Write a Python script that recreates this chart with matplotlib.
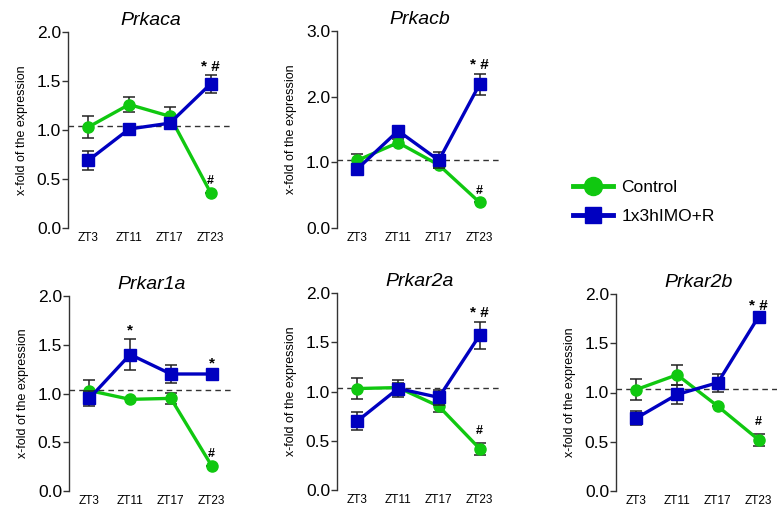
import matplotlib
matplotlib.use("Agg")
import matplotlib.pyplot as plt
from matplotlib.lines import Line2D

plt.rcParams['font.family'] = ['Liberation Sans', 'DejaVu Sans']

# data
zt = ["ZT3", "ZT11", "ZT17", "ZT23"]
genes = ["Prkaca", "Prkacb", "Prkar1a", "Prkar2a", "Prkar2b"]

ctrl = {
    "Prkaca":  [1.03, 1.26, 1.14, 0.36],
    "Prkacb":  [1.03, 1.30, 0.96, 0.39],
    "Prkar1a": [1.03, 0.94, 0.95, 0.26],
    "Prkar2a": [1.03, 1.04, 0.85, 0.42],
    "Prkar2b": [1.03, 1.18, 0.86, 0.52],
}
ctrl_err = {
    "Prkaca":  [0.11, 0.08, 0.09, 0.0],
    "Prkacb":  [0.10, 0.05, 0.05, 0.0],
    "Prkar1a": [0.11, 0.0, 0.06, 0.0],
    "Prkar2a": [0.11, 0.05, 0.06, 0.06],
    "Prkar2b": [0.11, 0.10, 0.0, 0.06],
}
imo = {
    "Prkaca":  [0.69, 1.01, 1.07, 1.47],
    "Prkacb":  [0.90, 1.48, 1.03, 2.19],
    "Prkar1a": [0.95, 1.40, 1.20, 1.20],
    "Prkar2a": [0.70, 1.03, 0.94, 1.57],
    "Prkar2b": [0.74, 0.98, 1.10, 1.77],
}
imo_err = {
    "Prkaca":  [0.10, 0.0, 0.0, 0.09],
    "Prkacb":  [0.05, 0.05, 0.12, 0.16],
    "Prkar1a": [0.08, 0.16, 0.09, 0.02],
    "Prkar2a": [0.09, 0.09, 0.08, 0.14],
    "Prkar2b": [0.07, 0.10, 0.09, 0.02],
}
# significance marks
imo_marks = {
    "Prkaca":  ["", "", "", "* #"],
    "Prkacb":  ["", "", "", "* #"],
    "Prkar1a": ["", "*", "", "*"],
    "Prkar2a": ["", "", "", "* #"],
    "Prkar2b": ["", "", "", "* #"],
}
ctrl_marks = {g: ["", "", "", "#"] for g in genes}
ymax = {"Prkaca": 2.0, "Prkacb": 3.0, "Prkar1a": 2.0, "Prkar2a": 2.0, "Prkar2b": 2.0}
yticks = {"Prkaca": [0, 0.5, 1, 1.5, 2], "Prkacb": [0, 1, 2, 3],
          "Prkar1a": [0, 0.5, 1, 1.5, 2], "Prkar2a": [0, 0.5, 1, 1.5, 2],
          "Prkar2b": [0, 0.5, 1, 1.5, 2]}
ref_level = 1.04

W, H = 777, 509
fig = plt.figure(figsize=(W / 100, H / 100), dpi=100)

# axes boxes in pixels: left, top, bottom
boxes = {
    "Prkaca":  (68, 32, 228),
    "Prkacb":  (337, 31, 228),
    "Prkar1a": (69, 296, 491),
    "Prkar2a": (337, 293, 490),
    "Prkar2b": (616, 294, 491),
}
green = '#10c810'
blue = '#0000c0'
xs = list(range(len(zt)))

for g in genes:
    l, t, b = boxes[g]
    ax = fig.add_axes([l / W, 1 - b / H, 165 / W, (b - t) / H])
    ax.axhline(ref_level, color='#333333', ls=(0, (4, 3)), lw=1.0, zorder=1)
    ax.errorbar(xs, ctrl[g], yerr=ctrl_err[g], color=green, lw=2.4, marker='o', ms=8,
                ecolor='#222222', elinewidth=1.1, capsize=4.5, capthick=1.1, zorder=3)
    ax.errorbar(xs, imo[g], yerr=imo_err[g], color=blue, lw=2.4, marker='s', ms=8,
                ecolor='#222222', elinewidth=1.1, capsize=4.5, capthick=1.1, zorder=4)
    for i in xs:
        if imo_marks[g][i]:
            ax.annotate(imo_marks[g][i], (i, imo[g][i] + imo_err[g][i]), xytext=(0, 1),
                        textcoords='offset points', ha='center', va='bottom',
                        fontsize=11, fontweight='bold')
        if ctrl_marks[g][i]:
            ax.annotate(ctrl_marks[g][i], (i, ctrl[g][i] + ctrl_err[g][i]), xytext=(0, 4),
                        textcoords='offset points', ha='center', va='bottom',
                        fontsize=9, fontweight='bold')
    ax.set_xlim(-0.5, 3.55)
    ax.set_ylim(0, ymax[g])
    ax.set_yticks(yticks[g])
    ax.set_yticklabels([f"{v:.1f}" for v in yticks[g]], fontsize=12.5)
    ax.set_xticks(xs)
    ax.set_xticklabels(zt, fontsize=8.5)
    ax.tick_params(axis='x', length=0, pad=3)
    ax.tick_params(axis='y', length=4, width=1, pad=1, color='#333333')
    for s in ['top', 'right', 'bottom']:
        ax.spines[s].set_visible(False)
    ax.spines['left'].set_linewidth(1.0)
    ax.spines['left'].set_color('#333333')
    ax.set_ylabel("x-fold of the expression", fontsize=9, labelpad=6)
    ax.set_title(g, fontsize=14, style='italic', pad=5)

handles = [
    Line2D([], [], color=green, lw=3.5, marker='o', ms=13),
    Line2D([], [], color=blue, lw=3.5, marker='s', ms=12),
]
fig.legend(handles, ["Control", "1x3hIMO+R"], loc='center left',
           bbox_to_anchor=(557 / W, 1 - 202 / H), frameon=False, fontsize=12.5,
           handlelength=2.3, handletextpad=0.5, labelspacing=0.75)

fig.savefig("out.png", dpi=100)
